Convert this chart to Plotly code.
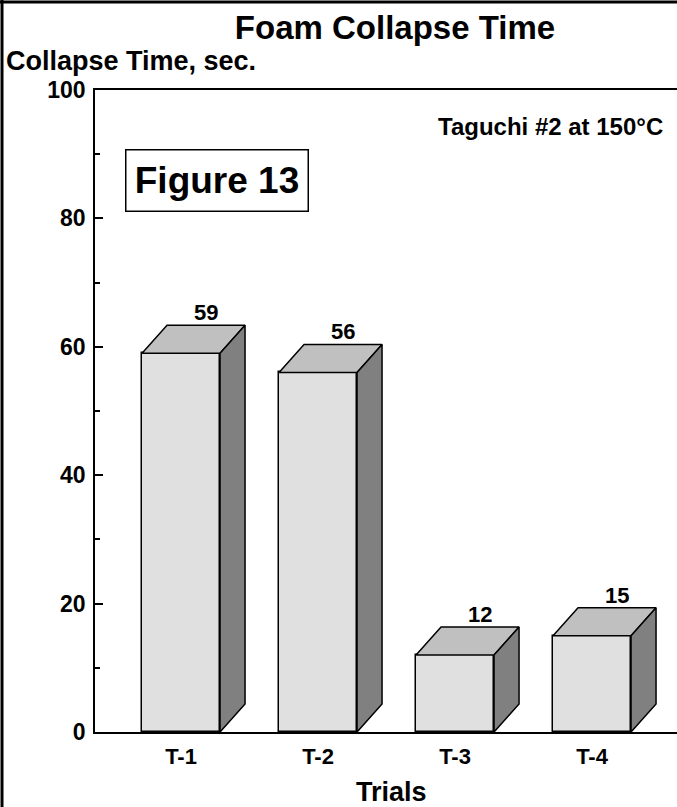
import plotly.graph_objects as go

# ---- data ----
categories = ["T-1", "T-2", "T-3", "T-4"]
collapse_time = [59, 56, 12, 15]
y_tick_vals = [0, 20, 40, 60, 80, 100]
y_tick_text = ["0", "20", "40", "60", "80", "100"]

# ---- geometry (axis units) ----
W, H = 677, 807
ML, MR, MT, MB = 95, 0, 90, 75
PW, PH = W - ML - MR, H - MT - MB
px_per_cat = 137.0
x_min = -0.628
x_max = x_min + PW / px_per_cat
px_per_unit = PH / 100.0
bar_w = 78 / px_per_cat
dx = 25 / px_per_cat
dy = 28 / px_per_unit

FONT = "Liberation Sans, Arial, sans-serif"
xs = list(range(len(categories)))

fig = go.Figure()

# front faces
fig.add_trace(go.Bar(
    x=xs, y=collapse_time, width=bar_w,
    marker=dict(color="#e0e0e0", line=dict(color="black", width=1.5)),
    hoverinfo="skip", showlegend=False))

# top and side faces
for i, v in zip(xs, collapse_time):
    l, r = i - bar_w / 2, i + bar_w / 2
    fig.add_trace(go.Scatter(
        x=[l, l + dx, r + dx, r, l], y=[v, v + dy, v + dy, v, v],
        mode="lines", fill="toself", fillcolor="#c0c0c0",
        line=dict(color="black", width=1.5), hoverinfo="skip", showlegend=False))
    fig.add_trace(go.Scatter(
        x=[r, r, r + dx, r + dx, r], y=[0, v, v + dy, dy, 0],
        mode="lines", fill="toself", fillcolor="#808080",
        line=dict(color="black", width=1.5), hoverinfo="skip", showlegend=False))

# value labels
for i, v in zip(xs, collapse_time):
    fig.add_annotation(x=i + dx, y=v + dy, text=str(v), showarrow=False,
                       xanchor="center", yanchor="bottom", yshift=-2,
                       font=dict(family=FONT, size=22, color="black", weight="bold"))

def px_to_paper_x(px):
    return (px - ML) / PW

def px_to_paper_y(py):
    return (H - MB - py) / PH

# y axis title
fig.add_annotation(xref="paper", yref="paper", x=px_to_paper_x(4), y=px_to_paper_y(61),
                   text="Collapse Time, sec.", showarrow=False, xanchor="left", yanchor="middle",
                   font=dict(family=FONT, size=27, color="black", weight="bold"))
# x axis title
fig.add_annotation(xref="paper", yref="paper", x=px_to_paper_x(391), y=px_to_paper_y(792),
                   text="Trials", showarrow=False, xanchor="center", yanchor="middle",
                   font=dict(family=FONT, size=27, color="black", weight="bold"))
# subtitle
fig.add_annotation(xref="paper", yref="paper", x=px_to_paper_x(665), y=px_to_paper_y(127),
                   text="Taguchi #2 at 150°C", showarrow=False, xanchor="right", yanchor="middle",
                   font=dict(family=FONT, size=24, color="black", weight="bold"))
# Figure 13 box
fig.add_annotation(xref="paper", yref="paper", x=px_to_paper_x(217), y=px_to_paper_y(180.5),
                   text="Figure 13", showarrow=False, xanchor="center", yanchor="middle",
                   width=179, height=58, bordercolor="black", borderwidth=1.5, borderpad=1,
                   bgcolor="white",
                   font=dict(family=FONT, size=37, color="black", weight="bold"))

# outer frame (left and top edges)
fig.add_shape(type="line", xref="paper", yref="paper",
              x0=px_to_paper_x(2), x1=px_to_paper_x(2), y0=px_to_paper_y(0), y1=px_to_paper_y(H),
              line=dict(color="black", width=3))
fig.add_shape(type="line", xref="paper", yref="paper",
              x0=px_to_paper_x(0), x1=px_to_paper_x(W), y0=px_to_paper_y(2), y1=px_to_paper_y(2),
              line=dict(color="black", width=3))

fig.update_layout(
    width=W, height=H,
    margin=dict(l=ML, r=MR, t=MT, b=MB, pad=0),
    paper_bgcolor="white", plot_bgcolor="white",
    title=dict(text="Foam Collapse Time", x=395 / W, xanchor="center",
               y=1 - 27 / H, yanchor="middle", xref="container", yref="container",
               font=dict(family=FONT, size=33, color="black", weight="bold")),
    bargap=0,
    xaxis=dict(range=[x_min, x_max], tickvals=xs, ticktext=categories,
               showline=True, linecolor="black", linewidth=1.5, mirror=True,
               ticks="", showgrid=False, zeroline=False, ticklabelstandoff=4,
               tickfont=dict(family=FONT, size=22, color="black", weight="bold")),
    yaxis=dict(range=[0, 100], tickvals=y_tick_vals, ticktext=y_tick_text,
               showline=True, linecolor="black", linewidth=1.5,
               ticks="inside", ticklen=8, tickwidth=1.5, tickcolor="black",
               minor=dict(dtick=10, ticks="inside", ticklen=5, tickwidth=1.5, tickcolor="black"),
               showgrid=False, zeroline=False, ticklabelstandoff=3,
               tickfont=dict(family=FONT, size=23, color="black", weight="bold")),
)

fig.write_html("out.html", config={"displayModeBar": False},
               post_script="document.body.style.margin='0';")
